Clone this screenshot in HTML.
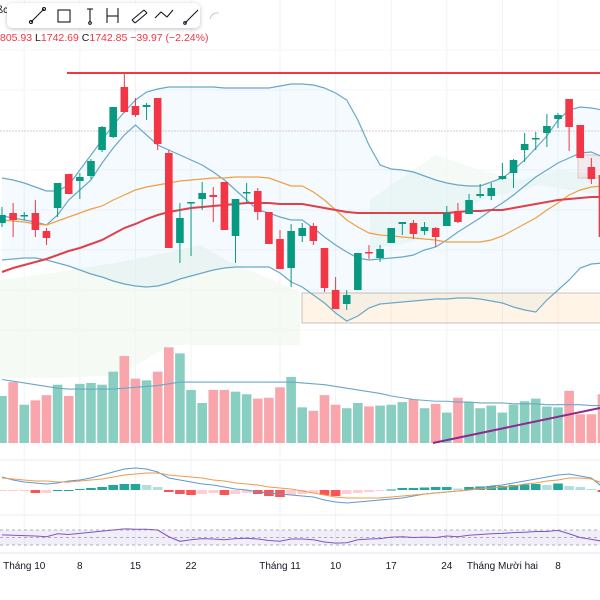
<!DOCTYPE html>
<html><head><meta charset="utf-8"><style>
body{margin:0;width:600px;height:600px;overflow:hidden;background:#fff;font-family:"Liberation Sans",sans-serif}
#tb{position:absolute;left:7px;top:3px;width:193px;height:25px;background:#fff;border-radius:5px;box-shadow:0 1px 4px rgba(0,0,0,.25)}
#ohlc{position:absolute;left:0;top:32px;font-size:10.5px;color:#f23645;white-space:nowrap}
#ohlc b{font-weight:normal;color:#131722}
</style></head><body>
<svg id="c" width="600" height="600" style="position:absolute;left:0;top:0"></svg>
<div style="position:absolute;left:-3px;top:5px;font-size:10px;color:#131722">ßc</div>
<div id="tb">
<svg width="215" height="25" style="position:absolute;left:0;top:0" stroke="#131722" fill="none" stroke-width="1.1">
<g><line x1="24" y1="19" x2="37" y2="6"/><circle cx="24" cy="19" r="1.5"/><circle cx="37" cy="6" r="1.5"/></g>
<g><rect x="51" y="7" width="12" height="12"/></g>
<g><line x1="80" y1="6" x2="86" y2="6"/><line x1="83" y1="6" x2="83" y2="19"/><circle cx="83" cy="20" r="1.3"/></g>
<g><line x1="100" y1="5" x2="100" y2="20"/><line x1="111" y1="5" x2="111" y2="20"/><line x1="100" y1="13" x2="111" y2="13"/></g>
<g><path d="M125 17 L137 7 M128 20 L140 10 M125 17 L128 20 M137 7 L140 10"/></g>
<g><path d="M148 15 L154 9 L160 14 L166 7"/></g>
<g><line x1="178" y1="20" x2="191" y2="7"/><circle cx="178" cy="20" r="1.3"/></g>
<g stroke="#ccc"><path d="M203 16 Q205 9 212 10"/></g>
</svg></div>
<div id="ohlc">805.93 <b>L</b>1742.69 <b>C</b>1742.85 −39.97 (−2.24%)</div>
<script>
const opens=[1777,1787,1784,1787,1769,1792,1826,1819,1824,1850,1863,1913,1894,1893,1902,1847,1757,1797,1801,1805,1818,1764,1807,1809,1788,1761,1732,1764,1774,1752,1710,1696,1710,1748,1742,1757,1776,1777,1769,1772,1774,1789,1786,1804,1804,1821,1827,1850,1861,1867,1881,1901,1875,1833,1825];
const highs=[1793,1797,1788,1800,1772,1817,1826,1827,1841,1874,1893,1927,1902,1897,1902,1850,1797,1798,1818,1813,1818,1801,1817,1812,1788,1770,1776,1777,1777,1752,1723,1710,1747,1755,1755,1772,1778,1780,1778,1773,1794,1797,1806,1816,1817,1837,1841,1867,1868,1886,1887,1901,1875,1842,1825];
const lows=[1773,1763,1780,1763,1755,1783,1806,1801,1821,1848,1862,1887,1883,1880,1850,1752,1737,1744,1790,1778,1770,1737,1797,1780,1756,1731,1713,1758,1755,1708,1691,1690,1710,1741,1738,1757,1765,1761,1765,1753,1774,1777,1786,1802,1800,1820,1812,1838,1850,1853,1872,1849,1842,1816,1763];
const closes=[1785,1780,1785,1770,1762,1817,1806,1823,1839,1873,1893,1888,1885,1895,1856,1752,1782,1798,1807,1803,1770,1801,1808,1788,1756,1731,1769,1772,1759,1712,1691,1705,1747,1747,1751,1772,1778,1766,1773,1763,1787,1778,1800,1806,1812,1824,1840,1856,1862,1874,1885,1873,1842,1821,1763];
const bbUpper=[1822,1820,1817,1813,1809,1809,1815,1830,1845,1860,1875,1888,1900,1908,1911,1913,1913,1913,1913,1913,1912,1912,1912,1912,1912,1914,1916,1916,1915,1912,1907,1900,1880,1855,1835,1831,1830,1828,1824,1820,1817,1815,1814,1814,1818,1822,1830,1840,1852,1864,1880,1890,1893,1892,1890];
const bbLower=[1740,1741,1742,1742,1740,1737,1734,1730,1726,1723,1719,1716,1714,1713,1714,1717,1721,1724,1727,1730,1732,1733,1733,1733,1733,1727,1718,1713,1705,1697,1687,1679,1684,1692,1696,1697,1698,1699,1700,1701,1701,1702,1702,1701,1699,1697,1693,1690,1688,1700,1710,1720,1732,1736,1737];
const emaFast=[1784,1782,1780,1778,1775,1785,1800,1810,1820,1837,1852,1865,1875,1865,1855,1850,1845,1840,1835,1828,1820,1810,1800,1790,1787,1783,1780,1780,1772,1763,1755,1748,1742,1740,1741,1742,1743,1745,1750,1753,1760,1768,1775,1782,1790,1797,1805,1814,1823,1830,1837,1842,1847,1848,1843];
const maMid=[1780,1779,1778,1776,1775,1779,1783,1787,1791,1794,1800,1805,1810,1813,1815,1817,1819,1820,1821,1822,1822,1823,1823,1823,1822,1818,1814,1814,1808,1800,1790,1780,1773,1767,1765,1764,1763,1762,1761,1760,1758,1758,1758,1758,1760,1764,1770,1776,1782,1790,1797,1805,1810,1813,1814];
const maSlow=[1728,1732,1735,1738,1741,1745,1749,1752,1756,1760,1766,1772,1776,1781,1785,1788,1790,1792,1793,1794,1795,1796,1797,1797,1797,1796,1796,1796,1794,1792,1790,1788,1787,1787,1787,1787,1787,1787,1787,1787,1787,1788,1789,1789,1790,1790,1792,1794,1796,1798,1800,1801,1802,1803,1803];
const volumes=[54,70,44,49,55,67,54,68,69,67,82,100,74,72,82,110,103,61,46,61,61,59,56,51,52,64,76,41,37,55,44,40,46,42,43,44,47,50,40,45,35,52,47,40,43,35,44,48,51,42,41,60,33,33,56];
const volMA=[73,71,69,67,65,63,62,62,62,62,62,63,64,65,66,68,70,70,70,70,70,70,70,70,70,70,70,69,68,67,65,63,61,59,57,54,52,50,49,48,48,47,47,46,46,46,45,45,45,44,44,44,44,43,43];
const macd=[13,10,8,7,6,7,9,10,12,15,18,21,22,21,18,12,10,8,6,5,3,1,0,-2,-3,-4,-5,-6,-7,-10,-12,-13,-12,-11,-10,-9,-8,-6,-4,-3,-2,-1,0,2,4,5,7,9,11,13,15,16,14,12,3];
const signal=[12,11,10,9,9,8,8,9,10,11,13,15,16,17,17,15,14,13,12,10,9,7,6,5,3,2,1,-1,-3,-5,-7,-8,-8,-8,-8,-7,-6,-5,-4,-3,-2,-1,0,1,2,3,4,6,7,9,10,12,12,11,7];
const hist=[-1,-1,-1,-3,-3,0,0,1,2,3,5,6,6,5,3,-2,-4,-5,-4,-3,-5,-4,-3,-4,-6,-7,-5,-4,-3,-5,-6,-4,-3,-2,-1,0.5,2,2,2.5,3,3,1.5,3,3.5,4,4,5,5.5,6,5,6.5,4,3,1,-2];
const rsi=[57,56,55,54,52,60,58,61,64,67,70,73,72,72,70,52,40,44,47,46,44,47,48,46,42,40,46,46,44,38,35,36,44,46,47,51,52,50,51,50,54,52,56,58,60,61,63,64,66,66,69,60,50,45,40];
const xLabels=["Tháng 10","8","15","22","Tháng 11","10","17","24","Tháng Mười hai","8"];
const xLabelIdx=[2,7,12,17,25,30,35,40,45,50];
const resistance=1927, rangeBoxTop=1707, rangeBoxBottom=1677;

const X=i=>2+11.12*i, Y=p=>2000-p, VY=v=>443-v*0.87, MY=v=>490-v, RY=r=>545-(r-30)*0.375;
const S=document.getElementById('c'),NS='http://www.w3.org/2000/svg';
function mk(t,a,p){const e=document.createElementNS(NS,t);for(const k in a)e.setAttribute(k,a[k]);(p||S).appendChild(e);return e;}
for(const i of xLabelIdx){const g=mk('line',{x1:X(i),x2:X(i),y1:0,y2:553,stroke:'#f0f3fa'});

}
for(const y of [50,90,170,210,250,290,330]){const g=mk('line',{x1:0,x2:600,y1:y,y2:y,stroke:'#f3f5fa'});

}
[[460,'#eceef2'],[515,'#eceef2'],[553,'#e0e3eb']].forEach(([y,c])=>{const l=mk('line',{x1:0,x2:600,y1:y,y2:y,stroke:c});

});
let c1=mk('path',{d:'M0 280 L60 272 L120 262 L170 252 L200 245 L230 262 L300 292 L300 345 L170 345 L120 375 L60 378 L0 378Z',fill:'#f1f8ef',opacity:.7});


let c2=mk('path',{d:'M370 200 L435 155 L480 170 L520 180 L560 170 L600 175 L600 195 L540 185 L480 200 L420 240 L370 250Z',fill:'#f1f8f2',opacity:.7});


let bd='M'+bbUpper.map((v,i)=>X(i)+' '+Y(v)).join(' L')+' L'+bbLower.map((v,i)=>X(i)+' '+Y(v)).reverse().join(' L')+'Z';
let bf=mk('path',{d:bd,fill:'rgba(33,150,243,0.05)'});


let rb=mk('rect',{x:302,y:Y(rangeBoxTop),width:300,height:Y(rangeBoxBottom)-Y(rangeBoxTop),fill:'rgba(255,152,0,0.1)',stroke:'#c9bfb5'});


let sb=mk('rect',{x:578,y:155,width:24,height:23,fill:'rgba(242,54,69,0.08)',stroke:'#d8c8c0'});


let hl=mk('line',{x1:0,x2:600,y1:131,y2:131,stroke:'#d9c9cc','stroke-dasharray':'2 1'});


function line(arr,fy,col,w,name){const p=mk('polyline',{points:arr.map((v,i)=>X(i)+','+fy(v)).join(' '),fill:'none',stroke:col,'stroke-width':w});

}
line(bbUpper,Y,'#6aa8c8',1.2,'bollinger-upper');
line(bbLower,Y,'#6aa8c8',1.2,'bollinger-lower');
line(emaFast,Y,'#6aa8c8',1.2,'ema-fast');
line(maMid,Y,'#f0a040',1.2,'ma-mid');
line(maSlow,Y,'#e0404a',2,'ma-slow');
let rl=mk('line',{x1:67,x2:600,y1:Y(resistance),y2:Y(resistance),stroke:'#f23645','stroke-width':2});


opens.forEach((o,i)=>{const c=closes[i],up=c>=o,col=up?'#089981':'#f23645';
const g=mk('g',{});


mk('line',{x1:X(i),x2:X(i),y1:Y(highs[i]),y2:Y(lows[i]),stroke:col,'stroke-width':1},g);
mk('rect',{x:X(i)-3.8,y:Y(Math.max(o,c)),width:7.6,height:Math.max(1.5,Math.abs(o-c)),fill:col},g);});
volumes.forEach((v,i)=>{const up=closes[i]>=opens[i];const r=mk('rect',{x:X(i)-4.8,y:VY(v),width:9.6,height:443-VY(v),fill:up?'#88cfc1':'#f8a5ab'});

});
line(volMA,v=>443-v*0.87,'#6aa8c8',1.1,'volume-ma');
let pl=mk('line',{x1:433,y1:443,x2:600,y2:408,stroke:'#8e2a8e','stroke-width':2});


hist.forEach((h,i)=>{const prev=i?hist[i-1]:h;let col=h>=0?(h>=prev?'#26a69a':'#b2dfdb'):(h<prev?'#ff5252':'#ffcdd2');
const r=mk('rect',{x:X(i)-4.8,y:Math.min(MY(h),490),width:9.6,height:Math.max(1,Math.abs(h)),fill:col});

});
line(macd,MY,'#5b9bd5',1.1,'macd-line');
line(signal,MY,'#f09a50',1.1,'signal-line');
let rf=mk('rect',{x:0,y:RY(70),width:600,height:RY(30)-RY(70),fill:'rgba(126,87,194,0.1)'});


[70,50,30].forEach(v=>{const l=mk('line',{x1:0,x2:600,y1:RY(v),y2:RY(v),stroke:'#9598a1','stroke-dasharray':'3 3','stroke-width':.8});

});
line(rsi,RY,'#7e57c2',1.1,'rsi-line');
xLabels.forEach((t,k)=>{const e=mk('text',{x:X(xLabelIdx[k]),y:569,'font-size':10,fill:'#131722','text-anchor':'middle','font-family':'Liberation Sans, sans-serif'});e.textContent=t;

});
</script></body></html>
